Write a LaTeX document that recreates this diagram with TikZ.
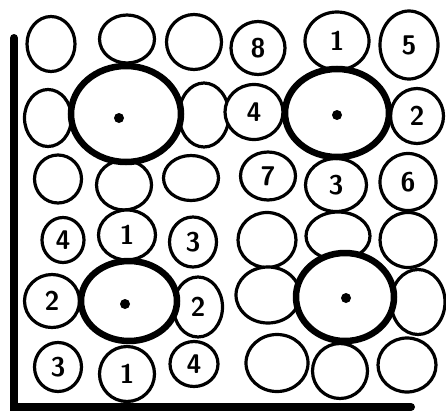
\documentclass[tikz,border=0pt]{standalone}
\usetikzlibrary{shapes.geometric}
\begin{document}
\begin{tikzpicture}[x=1pt,y=-1pt,
  cell/.style={ellipse,draw=black,line width=3.2pt,fill=white,inner sep=0pt,font=\fontsize{27}{27}\selectfont\sffamily\bfseries},
  big/.style={ellipse,draw=black,line width=6.5pt,fill=white,inner sep=0pt},
  dot/.style={circle,fill=black,inner sep=0pt,minimum size=10pt},
  axis/.style={line width=8pt,line cap=round}]
\useasboundingbox (0,0) rectangle (446,415);
% row 1
\node[cell,minimum width=48pt,minimum height=55pt] (a11) at (51,44) {};
\node[cell,minimum width=55pt,minimum height=48pt] (a12) at (127,39) {};
\node[cell,minimum width=55pt,minimum height=55pt] (a13) at (194,42) {};
\node[cell,minimum width=54pt,minimum height=53pt] (a14) at (258,48) {8};
\node[cell,minimum width=64pt,minimum height=58pt] (a15) at (337,41) {1};
\node[cell,minimum width=58pt,minimum height=68pt] (a16) at (409,45) {5};
% row 2
\node[cell,minimum width=47pt,minimum height=57pt] (a21) at (48,118) {};
\node[cell,minimum width=50pt,minimum height=64pt] (a23) at (204,115) {};
\node[cell,minimum width=58pt,minimum height=55pt] (a24) at (254,112) {4};
\node[cell,minimum width=53pt,minimum height=55pt] (a26) at (417,116) {2};
% row 3
\node[cell,minimum width=47pt,minimum height=48pt] (a31) at (58,179) {};
\node[cell,minimum width=55pt,minimum height=50pt] (a32) at (124,185) {};
\node[cell,minimum width=55pt,minimum height=45pt] (a33) at (191,178) {};
\node[cell,minimum width=55pt,minimum height=48pt] (a34) at (268,176) {7};
\node[cell,minimum width=61pt,minimum height=53pt] (a35) at (336,185) {3};
\node[cell,minimum width=56pt,minimum height=57pt] (a36) at (408,182) {6};
% row 4
\node[cell,minimum width=42pt,minimum height=45pt] (a41) at (63,240) {4};
\node[cell,minimum width=57pt,minimum height=50pt] (a42) at (127,235) {1};
\node[cell,minimum width=47pt,minimum height=50pt] (a43) at (193,242) {3};
\node[cell,minimum width=58pt,minimum height=55pt] (a44) at (267,240) {};
\node[cell,minimum width=64pt,minimum height=48pt] (a45) at (338,236) {};
\node[cell,minimum width=56pt,minimum height=55pt] (a46) at (408,240) {};
% row 5
\node[cell,minimum width=55pt,minimum height=53pt] (a51) at (52,301) {2};
\node[cell,minimum width=49pt,minimum height=60pt] (a53) at (198,307) {2};
\node[cell,minimum width=64pt,minimum height=56pt] (a54) at (268,295) {};
\node[cell,minimum width=54pt,minimum height=65pt] (a56) at (418,302) {};
% row 6
\node[cell,minimum width=47pt,minimum height=49pt] (a61) at (58,367) {3};
\node[cell,minimum width=55pt,minimum height=55pt] (a62) at (127,374) {1};
\node[cell,minimum width=48pt,minimum height=45pt] (a63) at (194,364) {4};
\node[cell,minimum width=62pt,minimum height=57pt] (a64) at (277,363) {};
\node[cell,minimum width=55pt,minimum height=55pt] (a65) at (340,371) {};
\node[cell,minimum width=58pt,minimum height=54pt] (a66) at (407,365) {};
% big circles
\node[big,minimum width=110pt,minimum height=96pt] (b1) at (126,114) {};
\node[big,minimum width=104pt,minimum height=88pt] (b2) at (337,113) {};
\node[big,minimum width=96pt,minimum height=80pt] (b3) at (129,301) {};
\node[big,minimum width=98pt,minimum height=88pt] (b4) at (345,297) {};
\node[dot] (d1) at (119,118) {};
\node[dot] (d2) at (337,115) {};
\node[dot] (d3) at (125,304) {};
\node[dot] (d4) at (346,298) {};
% axes
\coordinate (top) at (14,38);
\coordinate (corner) at (14,407);
\coordinate (right) at (411,407);
\draw[axis] (top) -- (corner) -- (right);
\end{tikzpicture}
\end{document}
